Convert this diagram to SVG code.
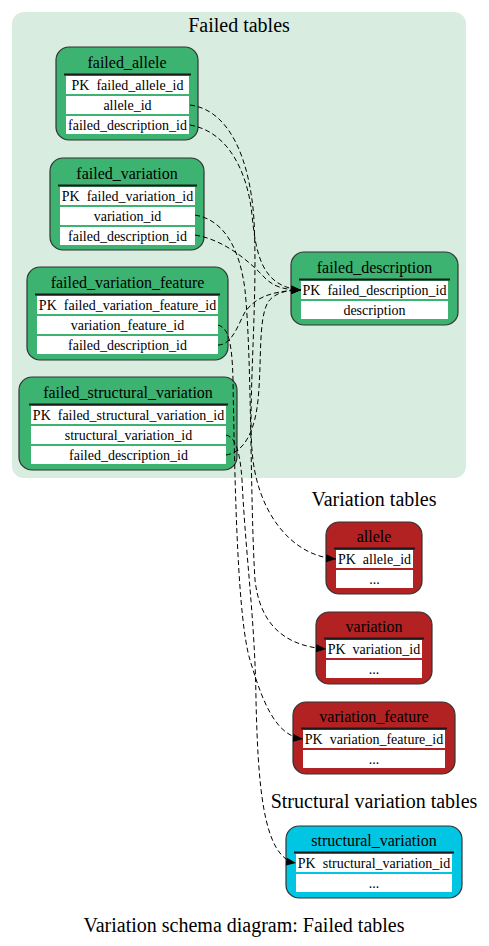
<svg xmlns="http://www.w3.org/2000/svg" width="489" height="946" viewBox="0 0 489 946">
<style>
text { font-family: "Liberation Serif", "Times New Roman", serif; fill: #000; }
.cl { font-size: 20px; text-anchor: middle; }
.tt { font-size: 16px; text-anchor: middle; }
.rt { font-size: 14px; text-anchor: middle; white-space: pre; }
.box { stroke: #333; stroke-width: 1.2; }
.g { fill: #3cb371; }
.r { fill: #b22222; }
.c { fill: #00c5e3; }
.cell { fill: #fff; stroke: none; }
.hr { stroke: #1a1a1a; stroke-width: 2; }
.e { fill: none; stroke: #000; stroke-width: 1; stroke-dasharray: 5,3; marker-end: url(#arr); }
</style>
<defs>
<marker id="arr" markerWidth="10" markerHeight="8" refX="10" refY="4" orient="auto" markerUnits="userSpaceOnUse">
<path d="M0,0 L10,4 L0,8 z" fill="#000"/>
</marker>
</defs>
<rect width="489" height="946" fill="#fff"/>

<g id="cluster_failed">
<rect x="12" y="12" width="454" height="466" rx="12" fill="#d8ede0"/>
<text class="cl" x="239" y="32">Failed tables</text>
</g>
<g id="cluster_variation">
<text class="cl" x="374" y="506">Variation tables</text>
</g>
<g id="cluster_structural">
<text class="cl" x="374" y="808">Structural variation tables</text>
</g>

<g id="failed_allele">
<rect class="box g" x="56" y="47" width="142" height="93" rx="13"/>
<text class="tt" x="127" y="68">failed_allele</text>
<line class="hr" x1="64" y1="74.5" x2="191" y2="74.5"/>
<rect class="cell" x="66" y="76" width="123" height="18"/>
<rect class="cell" x="66" y="96" width="123" height="18"/>
<rect class="cell" x="66" y="116" width="123" height="18"/>
<text class="rt" x="127.5" y="90">PK&#160; failed_allele_id</text>
<text class="rt" x="127.5" y="110">allele_id</text>
<text class="rt" x="127.5" y="130">failed_description_id</text>
</g>

<g id="failed_variation">
<rect class="box g" x="50" y="158" width="154" height="92" rx="13"/>
<text class="tt" x="127" y="179">failed_variation</text>
<line class="hr" x1="58" y1="185.5" x2="197" y2="185.5"/>
<rect class="cell" x="60" y="187" width="135" height="18"/>
<rect class="cell" x="60" y="207" width="135" height="18"/>
<rect class="cell" x="60" y="227" width="135" height="18"/>
<text class="rt" x="127.5" y="201">PK&#160; failed_variation_id</text>
<text class="rt" x="127.5" y="221">variation_id</text>
<text class="rt" x="127.5" y="241">failed_description_id</text>
</g>

<g id="failed_variation_feature">
<rect class="box g" x="27" y="267" width="201" height="93" rx="13"/>
<text class="tt" x="127.5" y="288">failed_variation_feature</text>
<line class="hr" x1="35" y1="294.5" x2="220" y2="294.5"/>
<rect class="cell" x="37" y="296" width="181" height="18"/>
<rect class="cell" x="37" y="316" width="181" height="18"/>
<rect class="cell" x="37" y="336" width="181" height="18"/>
<text class="rt" x="127.5" y="310">PK&#160; failed_variation_feature_id</text>
<text class="rt" x="127.5" y="330">variation_feature_id</text>
<text class="rt" x="127.5" y="350">failed_description_id</text>
</g>

<g id="failed_structural_variation">
<rect class="box g" x="19" y="377" width="218" height="93" rx="13"/>
<text class="tt" x="128" y="398">failed_structural_variation</text>
<line class="hr" x1="29" y1="404.5" x2="228" y2="404.5"/>
<rect class="cell" x="31" y="406" width="195" height="18"/>
<rect class="cell" x="31" y="426" width="195" height="18"/>
<rect class="cell" x="31" y="446" width="195" height="18"/>
<text class="rt" x="128.5" y="420">PK&#160; failed_structural_variation_id</text>
<text class="rt" x="128.5" y="440">structural_variation_id</text>
<text class="rt" x="128.5" y="460">failed_description_id</text>
</g>

<g id="failed_description">
<rect class="box g" x="291" y="252" width="167" height="73" rx="13"/>
<text class="tt" x="374.5" y="273">failed_description</text>
<line class="hr" x1="299" y1="279.5" x2="450" y2="279.5"/>
<rect class="cell" x="301" y="281" width="147" height="18"/>
<rect class="cell" x="301" y="301" width="147" height="18"/>
<text class="rt" x="374.5" y="295">PK&#160; failed_description_id</text>
<text class="rt" x="374.5" y="315">description</text>
</g>

<g id="allele">
<rect class="box r" x="326" y="522" width="96" height="72" rx="13"/>
<text class="tt" x="374" y="542">allele</text>
<line class="hr" x1="334" y1="548.5" x2="415" y2="548.5"/>
<rect class="cell" x="336" y="550" width="77" height="18"/>
<rect class="cell" x="336" y="570" width="77" height="18"/>
<text class="rt" x="374.5" y="564">PK&#160; allele_id</text>
<text class="rt" x="374.5" y="584">...</text>
</g>

<g id="variation">
<rect class="box r" x="316" y="612" width="116" height="72" rx="13"/>
<text class="tt" x="374" y="632">variation</text>
<line class="hr" x1="324" y1="638.5" x2="424" y2="638.5"/>
<rect class="cell" x="326" y="640" width="96" height="18"/>
<rect class="cell" x="326" y="660" width="96" height="18"/>
<text class="rt" x="374" y="654">PK&#160; variation_id</text>
<text class="rt" x="374" y="674">...</text>
</g>

<g id="variation_feature">
<rect class="box r" x="293" y="702" width="162" height="72" rx="13"/>
<text class="tt" x="374" y="722">variation_feature</text>
<line class="hr" x1="301" y1="728.5" x2="447" y2="728.5"/>
<rect class="cell" x="303" y="730" width="142" height="18"/>
<rect class="cell" x="303" y="750" width="142" height="18"/>
<text class="rt" x="374" y="744">PK&#160; variation_feature_id</text>
<text class="rt" x="374" y="764">...</text>
</g>

<g id="structural_variation">
<rect class="box c" x="286" y="826" width="176" height="72" rx="13"/>
<text class="tt" x="374" y="846">structural_variation</text>
<line class="hr" x1="294" y1="852.5" x2="454" y2="852.5"/>
<rect class="cell" x="296" y="854" width="156" height="18"/>
<rect class="cell" x="296" y="874" width="156" height="18"/>
<text class="rt" x="374" y="868">PK&#160; structural_variation_id</text>
<text class="rt" x="374" y="888">...</text>
</g>

<g id="connectors">
<path class="e" d="M190,105 C230,110 250,160 254,220 C258,300 248,400 252,450 C256,510 290,556 336,559"/>
<path class="e" d="M190,125 C230,132 248,175 252,215 C256,255 262,287 301,290"/>
<path class="e" d="M195,215 C225,220 240,250 245,290 C252,360 250,500 255,580 C260,625 285,646 326,649"/>
<path class="e" d="M195,235 C225,240 250,262 265,278 C274,287 285,290 301,290"/>
<path class="e" d="M218,325 C228,328 232,340 233,380 C235,500 238,620 250,660 C262,700 275,736 303,739"/>
<path class="e" d="M218,345 C232,345 238,325 245,312 C255,298 270,291 301,290"/>
<path class="e" d="M226,435 C235,437 240,450 242,480 C246,560 255,620 256,700 C258,780 262,858 296,863"/>
<path class="e" d="M226,455 C245,452 255,430 258,400 C262,360 258,320 268,302 C275,293 285,290 301,290"/>
</g>

<g id="caption">
<text class="cl" x="244" y="932">Variation schema diagram: Failed tables</text>
</g>
</svg>
